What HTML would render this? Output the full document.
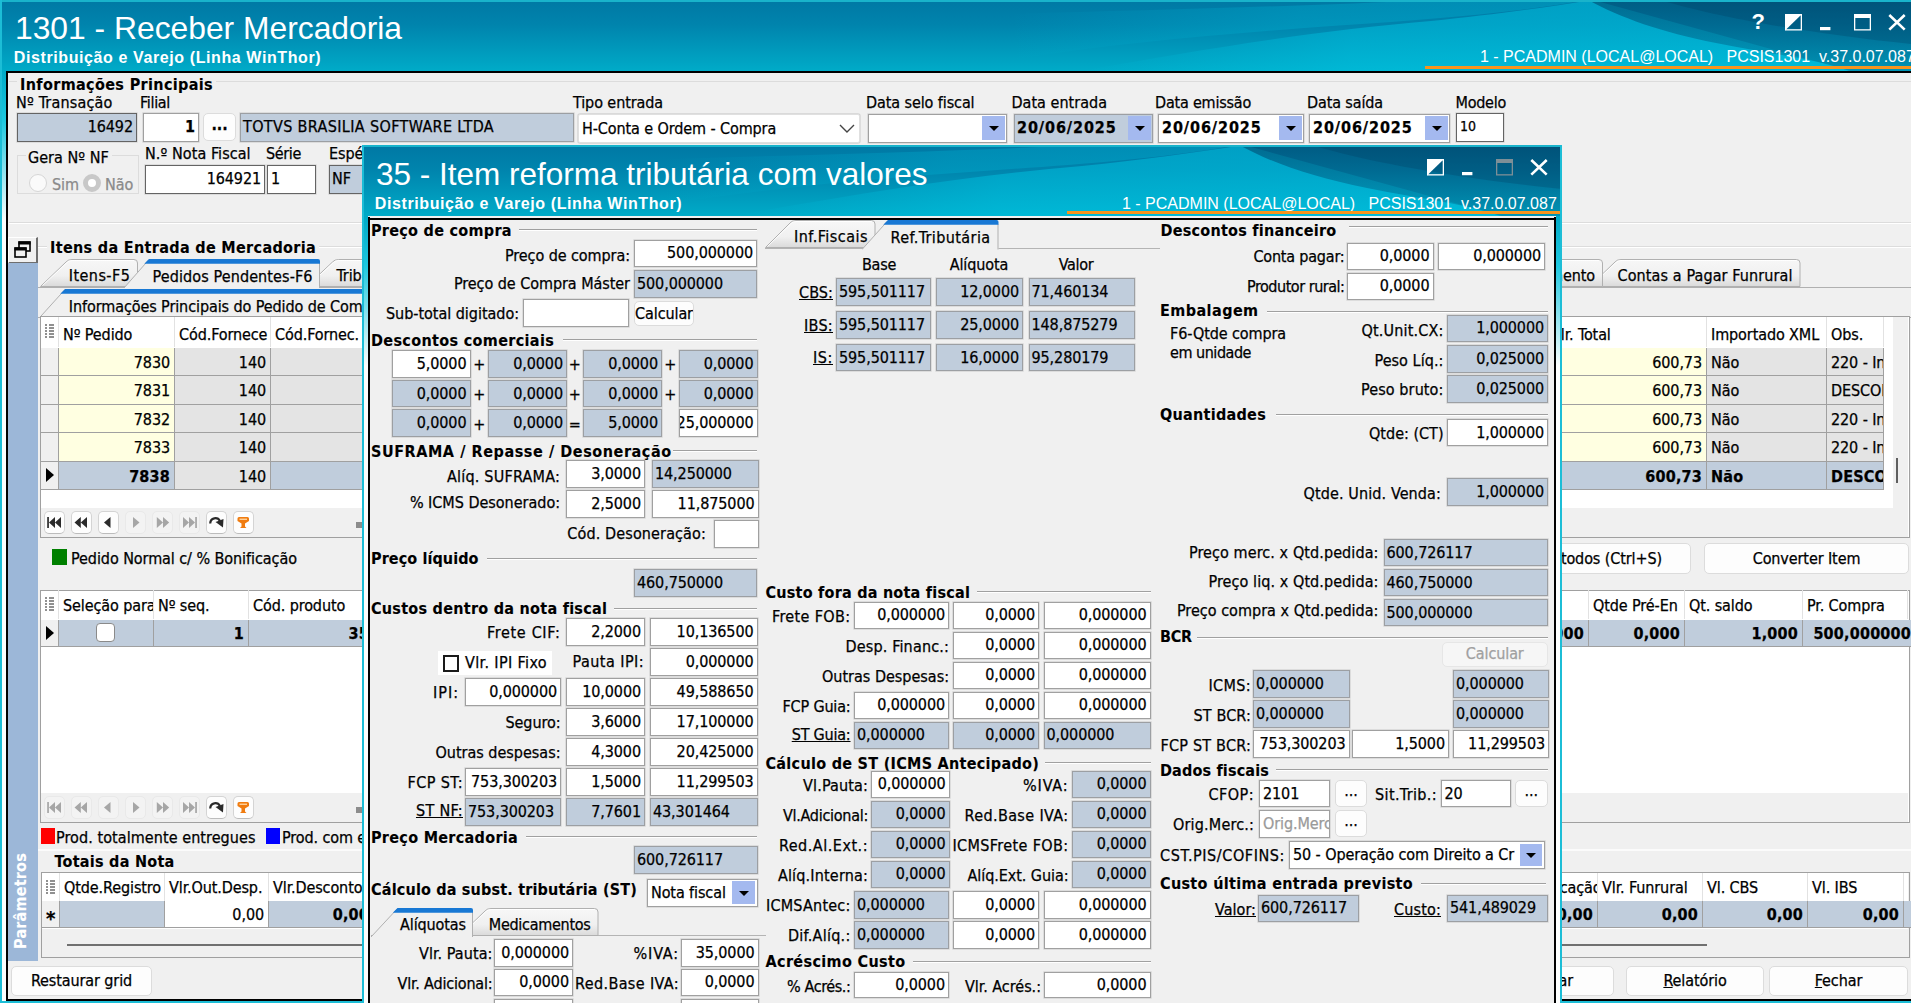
<!DOCTYPE html><html lang="pt-BR"><head><meta charset="utf-8"><title>1301 - Receber Mercadoria</title><style>
*{box-sizing:border-box;margin:0;padding:0}
html,body{width:1911px;height:1003px;overflow:hidden;background:#f0f0f0}
body{position:relative;font-family:"DejaVu Sans Condensed","DejaVu Sans","Liberation Sans",sans-serif;font-stretch:condensed;font-size:16px;letter-spacing:-.1px;-webkit-text-stroke-width:.25px;color:#000;line-height:18px}
.a{position:absolute;white-space:nowrap}
.ar{font-family:"Liberation Sans",sans-serif;font-stretch:normal;-webkit-text-stroke-width:0}
.t{position:absolute;white-space:nowrap;height:18px;line-height:18px}
.b{font-weight:bold;font-size:16px;letter-spacing:.2px;-webkit-text-stroke-width:.1px}
.f{position:absolute;white-space:nowrap;overflow:hidden;border:1px solid #a0a0a0;background:#fff;padding:0 3px;line-height:24px;box-shadow:0 0 0 .7px rgba(150,150,150,.3)}
.ro{background:#c0cddc;border-color:#9c9fa3;padding-left:2px}
.dk{border-color:#646464}
.r{text-align:right}
.c{text-align:center}
.u{text-decoration:underline}
.btn{position:absolute;white-space:nowrap;border:1px solid #dcdcdc;border-radius:5px;background:#fdfdfd;text-align:center;overflow:hidden}
.gl{position:absolute;height:2px;border-top:1px solid #a0a0a0;border-bottom:1px solid #fff}
.dd{position:absolute;background:#a4b9ef}
.dd:after{content:"";position:absolute;left:50%;top:50%;margin:-2px 0 0 -5px;border:5px solid transparent;border-top:5px solid #000;border-bottom:0}
.hc{position:absolute;top:0;height:100%;border-right:1px solid #e2e2e2;padding:0 4px;overflow:hidden;white-space:nowrap}
.cell{position:absolute;overflow:hidden;white-space:nowrap;border-right:1px solid #a0a0a0;border-bottom:1px solid #a0a0a0;padding:0 4px}
.gray{color:#8a8a8a}
</style></head><body>
<svg class="a" style="left:0px;top:0px" width="1911" height="71" viewBox="0 0 1911 71" preserveAspectRatio="none"><defs><linearGradient id="gm" x1="0" y1="0" x2="0" y2="1"><stop offset="0" stop-color="#0078a4"/><stop offset=".35" stop-color="#0084ad"/><stop offset="1" stop-color="#00abc8"/></linearGradient><linearGradient id="hm" x1="0" y1="0" x2="1" y2="0"><stop offset="0" stop-color="#00c8e6" stop-opacity="0"/><stop offset=".35" stop-color="#00c8e6" stop-opacity=".45"/><stop offset="1" stop-color="#00c8e6" stop-opacity=".55"/></linearGradient><linearGradient id="sm" x1="0" y1="0" x2="1" y2="0"><stop offset="0" stop-color="#00b8d8" stop-opacity="0"/><stop offset=".5" stop-color="#00b8d8" stop-opacity=".3"/><stop offset="1" stop-color="#00b8d8" stop-opacity=".35"/></linearGradient><linearGradient id="km" x1="0" y1="0" x2="0" y2="1"><stop offset="0" stop-color="#004a70" stop-opacity=".62"/><stop offset="1" stop-color="#005f86" stop-opacity=".3"/></linearGradient></defs><rect width="1911" height="71" fill="url(#gm)"/><path d="M1081 71 C1211 48 1321 30 1431 21 C1491 15 1541 8 1593 0 L1851 71 Z" fill="url(#hm)"/><path d="M1011 14 C1151 10 1311 6 1431 0 L1588 0 C1531 10 1471 16 1391 22 C1271 30 1131 40 1011 60 Z" fill="url(#sm)"/><path d="M1588 0 C1621 18 1661 32 1716 43 C1771 54 1821 60 1849 71 L1911 71 L1911 0 Z" fill="url(#km)"/><path d="M1641 0 C1691 14 1791 30 0 40 L1911 40 L1911 0 Z" fill="#003a5c" fill-opacity=".0"/><path d="M1661 0 C1711 16 1811 34 1911 44 L1911 0 Z" fill="#00395a" fill-opacity=".25"/><rect width="1911" height="2" fill="#19b3cb"/></svg>
<div class="a ar" style="left:15px;top:10px;font-size:31.8px;line-height:36px;letter-spacing:0;color:#fff">1301 - Receber Mercadoria</div>
<div class="a ar" style="left:13.8px;top:48.5px;font-size:16px;font-weight:bold;line-height:18px;letter-spacing:.6px;color:#fff">Distribuição e Varejo (Linha WinThor)</div>
<div class="a ar" style="left:1480px;top:48px;font-size:16px;line-height:18px;letter-spacing:0;color:#fff;white-space:pre">1 - PCADMIN (LOCAL@LOCAL)   PCSIS1301  v.37.0.07.087</div>
<div class="a" style="left:1425px;top:66px;width:486px;height:3px;background:#f7941d"></div>
<div class="a ar" style="left:1751.5px;top:9px;font-size:22px;font-weight:bold;line-height:26px;color:#fff;letter-spacing:0">?</div>
<svg class="a" style="left:1784.7px;top:13.5px" width="122" height="17" viewBox="0 0 122 17"><rect x=".65" y=".65" width="15.7" height="15.2" fill="none" stroke="#fff" stroke-width="1.3"/><path d="M0 0 L17 0 L0 16.5 Z" fill="#fff"/><rect x="35" y="13" width="10.4" height="3.2" fill="#fff"/><rect x="69.65" y=".65" width="15.7" height="15.2" fill="none" stroke="#fff" stroke-width="1.3"/><rect x="69" y="0" width="17" height="4" fill="#fff"/><path d="M104.3 1 L119.7 15.6 M119.7 1 L104.3 15.6" stroke="#fff" stroke-width="2.6" fill="none"/></svg>
<div class="a" style="left:0;top:71px;width:6px;height:932px;background:linear-gradient(#00a9c6 0,#1ec8e0 50px,#fdfefe 150px,#fdfefe 100%)"></div>
<div class="a" style="left:0;top:0;width:2px;height:1003px;background:#1cbdd6"></div>
<div class="a" style="left:6px;top:71px;width:1905px;height:2px;background:#000"></div>
<div class="a" style="left:5.5px;top:71px;width:2px;height:930px;background:#000"></div>
<div class="a" style="left:6px;top:999px;width:1905px;height:2px;background:#000"></div>
<div class="a" style="left:0;top:1001px;width:1911px;height:2px;background:#1cbdd6"></div>
<div class="a" style="left:9px;top:81px;width:1902px;height:142px;border-top:1px solid #dcdcdc;border-bottom:1px solid #dcdcdc"></div>
<div class="a" style="left:9px;top:223px;width:1902px;height:1px;background:#fff"></div>
<div class="a" style="left:17px;top:75px;width:199px;height:18px;background:#f0f0f0"></div>
<div class="t b" style="left:20px;top:75.75px;letter-spacing:0.36px;">Informações Principais</div>
<div class="t " style="left:16px;top:93.75px;letter-spacing:0.19px;">Nº Transação</div>
<div class="t " style="left:140px;top:93.75px;letter-spacing:-0.32px;">Filial</div>
<div class="t " style="left:573px;top:93.75px;letter-spacing:-0.09px;">Tipo entrada</div>
<div class="t " style="left:866px;top:93.75px;letter-spacing:-0.09px;">Data selo fiscal</div>
<div class="t " style="left:1011.5px;top:93.75px;letter-spacing:0.02px;">Data entrada</div>
<div class="t " style="left:1155px;top:93.75px;letter-spacing:-0.20px;">Data emissão</div>
<div class="t " style="left:1307px;top:93.75px;letter-spacing:-0.12px;">Data saída</div>
<div class="t " style="left:1455.5px;top:93.75px;letter-spacing:-0.26px;">Modelo</div>
<div class="f ro dk r" style="left:17px;top:113px;width:120px;height:28.6px;line-height:26.200000000000003px;">16492</div>
<div class="f r" style="left:143px;top:113px;width:56px;height:28.6px;line-height:26.200000000000003px;font-weight:bold">1</div>
<div class="btn " style="left:203px;top:113px;width:33px;height:28px;line-height:26px;font-weight:bold;line-height:22px">...</div>
<div class="f ro" style="left:240px;top:113px;width:334px;height:28.6px;line-height:26.200000000000003px;letter-spacing:0.36px">TOTVS BRASILIA SOFTWARE LTDA</div>
<div class="f" style="left:578px;top:114px;width:282px;height:29px;line-height:28px;border-color:#e0e0e0;border-radius:2px">H-Conta e Ordem - Compra</div>
<svg class="a" style="left:838px;top:124px" width="18" height="10" viewBox="0 0 18 10"><path d="M2 1 L9 8 L16 1" stroke="#444" stroke-width="1.4" fill="none"/></svg>
<div class="f " style="left:868px;top:114px;width:139px;height:28.6px;line-height:26.200000000000003px;font-weight:bold;font-size:16px;line-height:25.5px;letter-spacing:.9px"></div>
<div class="dd" style="left:982px;top:116px;width:23px;height:24px"></div>
<div class="f ro " style="left:1014px;top:114px;width:139px;height:28.6px;line-height:26.200000000000003px;font-weight:bold;font-size:16px;line-height:25.5px;letter-spacing:.9px">20/06/2025</div>
<div class="dd" style="left:1128px;top:116px;width:23px;height:24px"></div>
<div class="f " style="left:1158px;top:114px;width:146px;height:28.6px;line-height:26.200000000000003px;font-weight:bold;font-size:16px;line-height:25.5px;letter-spacing:.9px">20/06/2025</div>
<div class="dd" style="left:1279px;top:116px;width:23px;height:24px"></div>
<div class="f " style="left:1309px;top:114px;width:141px;height:28.6px;line-height:26.200000000000003px;font-weight:bold;font-size:16px;line-height:25.5px;letter-spacing:.9px">20/06/2025</div>
<div class="dd" style="left:1425px;top:116px;width:23px;height:24px"></div>
<div class="f dk" style="left:1456px;top:113px;width:48px;height:28.6px;line-height:26.200000000000003px;font-size:14px;line-height:24px">10</div>
<div class="a" style="left:17px;top:155px;width:122px;height:39px;border:1px solid #dcdcdc"></div>
<div class="a" style="left:26px;top:148px;width:86px;height:18px;background:#f0f0f0"></div>
<div class="t " style="left:28px;top:148.75px;letter-spacing:0.03px;">Gera Nº NF</div>
<div class="a" style="left:29px;top:174px;width:18px;height:18px;border-radius:9px;border:1px solid #d6d6d6;background:#fafafa"></div>
<div class="t gray" style="left:52px;top:175.75px;color:#a0a0a0letter-spacing:-0.80px;">Sim</div>
<div class="a" style="left:83px;top:174px;width:18px;height:18px;border-radius:9px;border:5px solid #c8c8c8;background:#fff"></div>
<div class="t gray" style="left:105px;top:175.75px;color:#a0a0a0letter-spacing:0.20px;">Não</div>
<div class="t " style="left:145px;top:144.75px;letter-spacing:0.07px;">N.º Nota Fiscal</div>
<div class="t " style="left:266px;top:144.75px;letter-spacing:-0.35px;">Série</div>
<div class="t " style="left:329px;top:144.75px;">Espécie</div>
<div class="f dk r" style="left:145px;top:165px;width:120px;height:28.6px;line-height:26.200000000000003px;">164921</div>
<div class="f dk" style="left:267px;top:165px;width:49px;height:28.6px;line-height:26.200000000000003px;">1</div>
<div class="f ro dk" style="left:329px;top:165px;width:91px;height:28.6px;line-height:26.200000000000003px;">NF</div>
<div class="a" style="left:7.5px;top:237px;width:30px;height:27px;background:#f0f0f0;border:1px solid #fff;border-right:2px solid #6e6e6e;border-bottom:2px solid #6e6e6e"></div>
<svg class="a" style="left:12.5px;top:240px" width="20" height="20" viewBox="0 0 20 20"><rect x="6" y="2" width="11" height="9" fill="#f0f0f0" stroke="#000" stroke-width="1.6"/><rect x="5.5" y="1.5" width="12" height="3" fill="#000"/><rect x="2" y="8" width="11" height="9" fill="#f0f0f0" stroke="#000" stroke-width="1.6"/><rect x="1.5" y="7.5" width="12" height="3" fill="#000"/></svg>
<div class="a" style="left:38px;top:246px;width:1873px;height:1px;background:#dcdcdc"></div>
<div class="a" style="left:38px;top:247px;width:1873px;height:1px;background:#fff"></div>
<div class="a" style="left:47px;top:238px;width:272px;height:18px;background:#f0f0f0"></div>
<div class="t b" style="left:50px;top:238.75px;letter-spacing:0.33px;">Itens da Entrada de Mercadoria</div>
<div class="a" style="left:8px;top:263px;width:30px;height:698px;background:#9cb7d8"></div>
<div class="a b" style="left:-42px;top:891px;width:126px;height:20px;line-height:20px;transform:rotate(-90deg);transform-origin:center;color:#fff;text-align:center;font-size:16px;letter-spacing:.2px">Parâmetros</div>
<div class="a" style="left:38px;top:287px;width:1873px;height:1px;background:#b0b0b0"></div>
<svg class="a" style="left:40px;top:259px" width="99" height="29" viewBox="0 0 99 29"><defs><linearGradient id="tg40_259" x1="0" y1="0" x2="0" y2="1"><stop offset="0" stop-color="#f7f7f7"/><stop offset=".6" stop-color="#f0f0f0"/><stop offset="1" stop-color="#dadada"/></linearGradient></defs><g><path d="M.5 27.5 L26 3 Q28 .5 32 .5 L94 .5 Q97.5 .5 97.5 4 L97.5 27.5 Z" fill="url(#tg40_259)" stroke="#b0b0b0"/><path d="M2.5 26.5 L27 3.5 Q29 1.5 32 1.5 L94 1.5" fill="none" stroke="#fff" stroke-opacity=".9"/></g></svg>
<div class="t " style="left:68.8px;top:267.25px;letter-spacing:0.44px;">Itens-F5</div>
<svg class="a" style="left:306px;top:259px" width="135" height="29" viewBox="0 0 135 29"><defs><linearGradient id="tg306_259" x1="0" y1="0" x2="0" y2="1"><stop offset="0" stop-color="#f7f7f7"/><stop offset=".6" stop-color="#f0f0f0"/><stop offset="1" stop-color="#dadada"/></linearGradient></defs><g><path d="M.5 27.5 L26.5 3 Q28.5 .5 32.5 .5 L130 .5 Q133.5 .5 133.5 4 L133.5 27.5 Z" fill="url(#tg306_259)" stroke="#b0b0b0"/><path d="M2.5 26.5 L27.5 3.5 Q29.5 1.5 32.5 1.5 L130 1.5" fill="none" stroke="#fff" stroke-opacity=".9"/></g></svg>
<div class="t " style="left:336.5px;top:267.25px;">Tributação</div>
<svg class="a" style="left:1589px;top:259px" width="212.5" height="29" viewBox="0 0 212.5 29"><defs><linearGradient id="tg1589_259" x1="0" y1="0" x2="0" y2="1"><stop offset="0" stop-color="#f7f7f7"/><stop offset=".6" stop-color="#f0f0f0"/><stop offset="1" stop-color="#dadada"/></linearGradient></defs><g><path d="M.5 27.5 L26 3 Q28 .5 32 .5 L207.5 .5 Q211.0 .5 211.0 4 L211.0 27.5 Z" fill="url(#tg1589_259)" stroke="#b0b0b0"/><path d="M2.5 26.5 L27 3.5 Q29 1.5 32 1.5 L207.5 1.5" fill="none" stroke="#fff" stroke-opacity=".9"/></g></svg>
<div class="t " style="left:1617.5px;top:267.25px;letter-spacing:0.11px;">Contas a Pagar Funrural</div>
<svg class="a" style="left:1500px;top:259px" width="104" height="29" viewBox="0 0 104 29"><defs><linearGradient id="tg1500_259" x1="0" y1="0" x2="0" y2="1"><stop offset="0" stop-color="#f7f7f7"/><stop offset=".6" stop-color="#f0f0f0"/><stop offset="1" stop-color="#dadada"/></linearGradient></defs><g><path d="M.5 27.5 L26 3 Q28 .5 32 .5 L99 .5 Q102.5 .5 102.5 4 L102.5 27.5 Z" fill="url(#tg1500_259)" stroke="#b0b0b0"/><path d="M2.5 26.5 L27 3.5 Q29 1.5 32 1.5 L99 1.5" fill="none" stroke="#fff" stroke-opacity=".9"/></g></svg>
<div class="t " style="right:316px;top:267.25px;">Faturamento</div>
<svg class="a" style="left:124px;top:259px" width="197" height="30" viewBox="0 0 197 30"><path d="M0 29 L25 0 L193 0 Q196 0 196 3 L196 30 L0 30Z" fill="#f0f0f0"/><path d="M0 29 L25 .5" stroke="#b0b0b0" fill="none"/><path d="M195.5 4 L195.5 29" stroke="#b0b0b0" fill="none"/><path d="M25 0 L194 0 Q196 0 196 2 L196 4.7 L20.3 4.7 Z" fill="#1878d4"/></svg>
<div class="t " style="left:152.6px;top:267.75px;letter-spacing:0.10px;">Pedidos Pendentes-F6</div>
<div class="a" style="left:38px;top:317px;width:1873px;height:1px;background:#b0b0b0"></div>
<svg class="a" style="left:39.5px;top:289.4px" width="441.5" height="29.100000000000023" viewBox="0 0 441.5 29.100000000000023"><path d="M0 28.100000000000023 L25.0 0 L437.5 0 Q440.5 0 440.5 3 L440.5 29.100000000000023 L0 29.100000000000023Z" fill="#f0f0f0"/><path d="M0 28.100000000000023 L25.0 .5" stroke="#b0b0b0" fill="none"/><path d="M440.0 4 L440.0 28.100000000000023" stroke="#b0b0b0" fill="none"/><path d="M25.0 0 L438.5 0 Q440.5 0 440.5 2 L440.5 4.7 L20.3 4.7 Z" fill="#1878d4"/></svg>
<div class="t " style="left:68.8px;top:297.7px;letter-spacing:-0.09px;">Informações Principais do Pedido de Compra</div>
<div class="a" style="left:40px;top:316px;width:1870px;height:222px;background:#fff;border:1px solid #a0a0a0"></div>
<div class="a" style="left:41px;top:317px;width:18px;height:30px;border-right:1px solid #e2e2e2"></div>
<svg class="a" style="left:45px;top:324px" width="9" height="15" viewBox="0 0 9 15"><path d="M0 1h2M4 1h5M0 4h2M4 4h5M0 7h2M4 7h5M0 10h2M4 10h5M0 13h2M4 13h5" stroke="#222" stroke-width="1.2"/></svg>
<div class="a" style="left:59px;top:317px;width:116px;height:30px;line-height:35px;border-right:1px solid #e2e2e2;padding-left:4px;overflow:hidden">Nº Pedido</div>
<div class="a" style="left:175px;top:317px;width:96px;height:30px;line-height:35px;border-right:1px solid #e2e2e2;padding-left:4px;overflow:hidden">Cód.Fornece</div>
<div class="a" style="left:271px;top:317px;width:96px;height:30px;line-height:35px;border-right:1px solid #e2e2e2;padding-left:4px;overflow:hidden">Cód.Fornec.</div>
<div class="a" style="left:1547px;top:317px;width:160px;height:30px;line-height:35px;border-right:1px solid #e2e2e2;padding-left:4px;overflow:hidden">Vlr. Total</div>
<div class="a" style="left:1707px;top:317px;width:120px;height:30px;line-height:35px;border-right:1px solid #e2e2e2;padding-left:4px;overflow:hidden">Importado XML</div>
<div class="a" style="left:1827px;top:317px;width:57px;height:30px;line-height:35px;border-right:1px solid #e2e2e2;padding-left:4px;overflow:hidden">Obs.</div>
<div class="cell" style="left:41px;top:348px;width:18px;height:28px;line-height:29px;background:#f0f0f0;"></div>
<div class="cell" style="left:59px;top:348px;width:116px;height:28px;line-height:29px;background:#ffffe1;text-align:right;">7830</div>
<div class="cell" style="left:175px;top:348px;width:96px;height:28px;line-height:29px;background:#e4e4e4;text-align:right;">140</div>
<div class="cell" style="left:271px;top:348px;width:1279px;height:28px;line-height:29px;background:#e4e4e4;"></div>
<div class="cell" style="left:1550px;top:348px;width:157px;height:28px;line-height:29px;background:#ffffe1;text-align:right;">600,73</div>
<div class="cell" style="left:1707px;top:348px;width:120px;height:28px;line-height:29px;background:#e4e4e4;">Não</div>
<div class="cell" style="left:1827px;top:348px;width:57px;height:28px;line-height:29px;background:#e4e4e4;">220 - In</div>
<div class="cell" style="left:41px;top:376px;width:18px;height:29px;line-height:30px;background:#f0f0f0;"></div>
<div class="cell" style="left:59px;top:376px;width:116px;height:29px;line-height:30px;background:#ffffe1;text-align:right;">7831</div>
<div class="cell" style="left:175px;top:376px;width:96px;height:29px;line-height:30px;background:#e4e4e4;text-align:right;">140</div>
<div class="cell" style="left:271px;top:376px;width:1279px;height:29px;line-height:30px;background:#e4e4e4;"></div>
<div class="cell" style="left:1550px;top:376px;width:157px;height:29px;line-height:30px;background:#ffffe1;text-align:right;">600,73</div>
<div class="cell" style="left:1707px;top:376px;width:120px;height:29px;line-height:30px;background:#e4e4e4;">Não</div>
<div class="cell" style="left:1827px;top:376px;width:57px;height:29px;line-height:30px;background:#e4e4e4;">DESCON</div>
<div class="cell" style="left:41px;top:405px;width:18px;height:28px;line-height:29px;background:#f0f0f0;"></div>
<div class="cell" style="left:59px;top:405px;width:116px;height:28px;line-height:29px;background:#ffffe1;text-align:right;">7832</div>
<div class="cell" style="left:175px;top:405px;width:96px;height:28px;line-height:29px;background:#e4e4e4;text-align:right;">140</div>
<div class="cell" style="left:271px;top:405px;width:1279px;height:28px;line-height:29px;background:#e4e4e4;"></div>
<div class="cell" style="left:1550px;top:405px;width:157px;height:28px;line-height:29px;background:#ffffe1;text-align:right;">600,73</div>
<div class="cell" style="left:1707px;top:405px;width:120px;height:28px;line-height:29px;background:#e4e4e4;">Não</div>
<div class="cell" style="left:1827px;top:405px;width:57px;height:28px;line-height:29px;background:#e4e4e4;">220 - In</div>
<div class="cell" style="left:41px;top:433px;width:18px;height:28.5px;line-height:29.5px;background:#f0f0f0;"></div>
<div class="cell" style="left:59px;top:433px;width:116px;height:28.5px;line-height:29.5px;background:#ffffe1;text-align:right;">7833</div>
<div class="cell" style="left:175px;top:433px;width:96px;height:28.5px;line-height:29.5px;background:#e4e4e4;text-align:right;">140</div>
<div class="cell" style="left:271px;top:433px;width:1279px;height:28.5px;line-height:29.5px;background:#e4e4e4;"></div>
<div class="cell" style="left:1550px;top:433px;width:157px;height:28.5px;line-height:29.5px;background:#ffffe1;text-align:right;">600,73</div>
<div class="cell" style="left:1707px;top:433px;width:120px;height:28.5px;line-height:29.5px;background:#e4e4e4;">Não</div>
<div class="cell" style="left:1827px;top:433px;width:57px;height:28.5px;line-height:29.5px;background:#e4e4e4;">220 - In</div>
<div class="cell" style="left:41px;top:461.5px;width:18px;height:28.5px;line-height:29.5px;background:#f0f0f0;"></div>
<div class="cell" style="left:59px;top:461.5px;width:116px;height:28.5px;line-height:29.5px;background:#c0cddc;text-align:right;font-weight:bold;font-size:16px;letter-spacing:.2px;">7838</div>
<div class="cell" style="left:175px;top:461.5px;width:96px;height:28.5px;line-height:29.5px;background:#e4e4e4;text-align:right;">140</div>
<div class="cell" style="left:271px;top:461.5px;width:1279px;height:28.5px;line-height:29.5px;background:#c0cddc;"></div>
<div class="cell" style="left:1550px;top:461.5px;width:157px;height:28.5px;line-height:29.5px;background:#c0cddc;text-align:right;font-weight:bold;font-size:16px;letter-spacing:.2px;">600,73</div>
<div class="cell" style="left:1707px;top:461.5px;width:120px;height:28.5px;line-height:29.5px;background:#c0cddc;font-weight:bold;font-size:16px;letter-spacing:.2px;">Não</div>
<div class="cell" style="left:1827px;top:461.5px;width:57px;height:28.5px;line-height:29.5px;background:#c0cddc;font-weight:bold;font-size:16px;letter-spacing:.2px;">DESCO</div>
<svg class="a" style="left:46px;top:468px" width="8" height="14" viewBox="0 0 8 14"><path d="M0 0 L8 7 L0 14Z" fill="#000"/></svg>
<div class="a" style="left:1893px;top:317px;width:15px;height:191px;background:#f0f0f0"></div>
<div class="a" style="left:1896px;top:458px;width:2px;height:25px;background:#606060"></div>
<div class="a" style="left:41px;top:507.5px;width:1867px;height:29px;background:#f0f0f0"></div>
<div class="a" style="left:43.5px;top:510.8px;width:21.5px;height:23px;background:#fdfdfd;border:1px solid #d4d4d4;border-bottom-color:#bcbcbc;border-radius:5px"></div>
<svg class="a" style="left:43.5px;top:510.8px" width="22" height="23" viewBox="0 0 22 23"><path d="M3.2 6h1.7v11h-1.7zM5 11.5l6-5.5v11zM11 11.5l6-5.5v11z" fill="#2a2a2a"/></svg>
<div class="a" style="left:70.5px;top:510.8px;width:21.5px;height:23px;background:#fdfdfd;border:1px solid #d4d4d4;border-bottom-color:#bcbcbc;border-radius:5px"></div>
<svg class="a" style="left:70.5px;top:510.8px" width="22" height="23" viewBox="0 0 22 23"><path d="M3.5 11.5l6.3-5.5v11zM9.8 11.5l6.2-5.5v11z" fill="#2a2a2a"/></svg>
<div class="a" style="left:97.5px;top:510.8px;width:21.5px;height:23px;background:#fdfdfd;border:1px solid #d4d4d4;border-bottom-color:#bcbcbc;border-radius:5px"></div>
<svg class="a" style="left:97.5px;top:510.8px" width="22" height="23" viewBox="0 0 22 23"><path d="M6 11.5l6.5-5.5v11z" fill="#2a2a2a"/></svg>
<div class="a" style="left:124.5px;top:510.8px;width:21.5px;height:23px;background:#f3f3f3;border:1px solid #e9e9e9;border-radius:5px"></div>
<svg class="a" style="left:124.5px;top:510.8px" width="22" height="23" viewBox="0 0 22 23"><path d="M14.5 11.5l-6.5-5.5v11z" fill="#a6a6a6"/></svg>
<div class="a" style="left:151.5px;top:510.8px;width:21.5px;height:23px;background:#f3f3f3;border:1px solid #e9e9e9;border-radius:5px"></div>
<svg class="a" style="left:151.5px;top:510.8px" width="22" height="23" viewBox="0 0 22 23"><path d="M17.2 11.5l-6.2-5.5v11zM11 11.5l-6.2-5.5v11z" fill="#a6a6a6"/></svg>
<div class="a" style="left:178.5px;top:510.8px;width:21.5px;height:23px;background:#f3f3f3;border:1px solid #e9e9e9;border-radius:5px"></div>
<svg class="a" style="left:178.5px;top:510.8px" width="22" height="23" viewBox="0 0 22 23"><path d="M16.2 6h1.7v11h-1.7zM16 11.5l-6-5.5v11zM10 11.5l-6-5.5v11z" fill="#a6a6a6"/></svg>
<div class="a" style="left:205.5px;top:510.8px;width:21.5px;height:23px;background:#fdfdfd;border:1px solid #d4d4d4;border-bottom-color:#bcbcbc;border-radius:5px"></div>
<svg class="a" style="left:205.5px;top:510.8px" width="22" height="23" viewBox="0 0 22 23"><path d="M4.2 12.5 C4.5 6.5 11.5 5.5 14 10" stroke="#2a2a2a" stroke-width="2.2" fill="none"/><path d="M9.5 11 L17.5 8 L17 16.5Z" fill="#2a2a2a"/></svg>
<div class="a" style="left:232.5px;top:510.8px;width:21.5px;height:23px;background:#fdfdfd;border:1px solid #d4d4d4;border-bottom-color:#bcbcbc;border-radius:5px"></div>
<svg class="a" style="left:232.5px;top:510.8px" width="22" height="23" viewBox="0 0 22 23"><path d="M4.5 7.5 Q4.5 6 6 6 L14.5 6 Q16 6 16 7.5 L16 10 L12 12.5 L12 15.5 L13.5 17 L7 17 L8.5 15.5 L8.5 12.5 L4.5 10Z" fill="#f07c10"/><rect x="6.5" y="7.6" width="7.5" height="1.3" fill="#ffd9a8"/></svg>
<div class="a" style="left:356px;top:521.5px;width:6px;height:6px;background:#8c8c8c"></div>
<div class="a" style="left:52px;top:549px;width:15px;height:16px;background:#008000"></div>
<div class="t " style="left:71px;top:549.75px;letter-spacing:-0.07px;">Pedido Normal c/ % Bonificação</div>
<div class="btn " style="left:1440px;top:543px;width:251px;height:31px;line-height:29px;text-align:right;padding-right:28px">Salvar todos (Ctrl+S)</div>
<div class="btn " style="left:1704px;top:543px;width:205px;height:31px;line-height:29px;">Converter Item</div>
<div class="a" style="left:40px;top:590px;width:1870px;height:233px;background:#fff;border:1px solid #a0a0a0"></div>
<div class="a" style="left:41px;top:590px;width:18px;height:29px;border-right:1px solid #e2e2e2"></div>
<svg class="a" style="left:45px;top:597px" width="9" height="15" viewBox="0 0 9 15"><path d="M0 1h2M4 1h5M0 4h2M4 4h5M0 7h2M4 7h5M0 10h2M4 10h5M0 13h2M4 13h5" stroke="#222" stroke-width="1.2"/></svg>
<div class="a" style="left:59px;top:590px;width:95px;height:29px;line-height:32px;border-right:1px solid #e2e2e2;padding-left:4px;overflow:hidden">Seleção para</div>
<div class="a" style="left:154px;top:590px;width:95px;height:29px;line-height:32px;border-right:1px solid #e2e2e2;padding-left:4px;overflow:hidden">Nº seq.</div>
<div class="a" style="left:249px;top:590px;width:118px;height:29px;line-height:32px;border-right:1px solid #e2e2e2;padding-left:4px;overflow:hidden">Cód. produto</div>
<div class="a" style="left:1420px;top:590px;width:169px;height:29px;line-height:32px;border-right:1px solid #e2e2e2;padding-left:4px;overflow:hidden">Qt. entregue</div>
<div class="a" style="left:1589px;top:590px;width:96px;height:29px;line-height:32px;border-right:1px solid #e2e2e2;padding-left:4px;overflow:hidden">Qtde Pré-En</div>
<div class="a" style="left:1685px;top:590px;width:118px;height:29px;line-height:32px;border-right:1px solid #e2e2e2;padding-left:4px;overflow:hidden">Qt. saldo</div>
<div class="a" style="left:1803px;top:590px;width:105px;height:29px;line-height:32px;border-right:1px solid #e2e2e2;padding-left:4px;overflow:hidden">Pr. Compra</div>
<div class="cell" style="left:41px;top:620px;width:18px;height:27px;line-height:28px;background:#f0f0f0;"></div>
<div class="cell" style="left:59px;top:620px;width:95px;height:27px;line-height:28px;background:#c0cddc;"></div>
<div class="cell" style="left:154px;top:620px;width:95px;height:27px;line-height:28px;background:#c0cddc;text-align:right;font-weight:bold;font-size:16px;letter-spacing:.2px;">1</div>
<div class="cell" style="left:249px;top:620px;width:125px;height:27px;line-height:28px;background:#c0cddc;text-align:right;font-weight:bold;font-size:16px;letter-spacing:.2px;">35</div>
<div class="cell" style="left:374px;top:620px;width:1126px;height:27px;line-height:28px;background:#c0cddc;"></div>
<div class="cell" style="left:1500px;top:620px;width:89px;height:27px;line-height:28px;background:#c0cddc;text-align:right;font-weight:bold;font-size:16px;letter-spacing:.2px;">0,000</div>
<div class="cell" style="left:1589px;top:620px;width:96px;height:27px;line-height:28px;background:#c0cddc;text-align:right;font-weight:bold;font-size:16px;letter-spacing:.2px;">0,000</div>
<div class="cell" style="left:1685px;top:620px;width:118px;height:27px;line-height:28px;background:#c0cddc;text-align:right;font-weight:bold;font-size:16px;letter-spacing:.2px;">1,000</div>
<div class="cell" style="left:1803px;top:620px;width:113px;height:27px;line-height:28px;background:#c0cddc;text-align:right;font-weight:bold;font-size:16px;letter-spacing:.2px;">500,000000</div>
<svg class="a" style="left:46px;top:626px" width="8" height="14" viewBox="0 0 8 14"><path d="M0 0 L8 7 L0 14Z" fill="#000"/></svg>
<div class="a" style="left:96px;top:623px;width:19px;height:19px;background:#fff;border:1px solid #8a8a8a;border-radius:4px"></div>
<div class="a" style="left:41px;top:793px;width:1867px;height:29px;background:#f0f0f0"></div>
<div class="a" style="left:43.5px;top:796.3px;width:21.5px;height:23px;background:#f3f3f3;border:1px solid #e9e9e9;border-radius:5px"></div>
<svg class="a" style="left:43.5px;top:796.3px" width="22" height="23" viewBox="0 0 22 23"><path d="M3.2 6h1.7v11h-1.7zM5 11.5l6-5.5v11zM11 11.5l6-5.5v11z" fill="#a6a6a6"/></svg>
<div class="a" style="left:70.5px;top:796.3px;width:21.5px;height:23px;background:#f3f3f3;border:1px solid #e9e9e9;border-radius:5px"></div>
<svg class="a" style="left:70.5px;top:796.3px" width="22" height="23" viewBox="0 0 22 23"><path d="M3.5 11.5l6.3-5.5v11zM9.8 11.5l6.2-5.5v11z" fill="#a6a6a6"/></svg>
<div class="a" style="left:97.5px;top:796.3px;width:21.5px;height:23px;background:#f3f3f3;border:1px solid #e9e9e9;border-radius:5px"></div>
<svg class="a" style="left:97.5px;top:796.3px" width="22" height="23" viewBox="0 0 22 23"><path d="M6 11.5l6.5-5.5v11z" fill="#a6a6a6"/></svg>
<div class="a" style="left:124.5px;top:796.3px;width:21.5px;height:23px;background:#f3f3f3;border:1px solid #e9e9e9;border-radius:5px"></div>
<svg class="a" style="left:124.5px;top:796.3px" width="22" height="23" viewBox="0 0 22 23"><path d="M14.5 11.5l-6.5-5.5v11z" fill="#a6a6a6"/></svg>
<div class="a" style="left:151.5px;top:796.3px;width:21.5px;height:23px;background:#f3f3f3;border:1px solid #e9e9e9;border-radius:5px"></div>
<svg class="a" style="left:151.5px;top:796.3px" width="22" height="23" viewBox="0 0 22 23"><path d="M17.2 11.5l-6.2-5.5v11zM11 11.5l-6.2-5.5v11z" fill="#a6a6a6"/></svg>
<div class="a" style="left:178.5px;top:796.3px;width:21.5px;height:23px;background:#f3f3f3;border:1px solid #e9e9e9;border-radius:5px"></div>
<svg class="a" style="left:178.5px;top:796.3px" width="22" height="23" viewBox="0 0 22 23"><path d="M16.2 6h1.7v11h-1.7zM16 11.5l-6-5.5v11zM10 11.5l-6-5.5v11z" fill="#a6a6a6"/></svg>
<div class="a" style="left:205.5px;top:796.3px;width:21.5px;height:23px;background:#fdfdfd;border:1px solid #d4d4d4;border-bottom-color:#bcbcbc;border-radius:5px"></div>
<svg class="a" style="left:205.5px;top:796.3px" width="22" height="23" viewBox="0 0 22 23"><path d="M4.2 12.5 C4.5 6.5 11.5 5.5 14 10" stroke="#2a2a2a" stroke-width="2.2" fill="none"/><path d="M9.5 11 L17.5 8 L17 16.5Z" fill="#2a2a2a"/></svg>
<div class="a" style="left:232.5px;top:796.3px;width:21.5px;height:23px;background:#fdfdfd;border:1px solid #d4d4d4;border-bottom-color:#bcbcbc;border-radius:5px"></div>
<svg class="a" style="left:232.5px;top:796.3px" width="22" height="23" viewBox="0 0 22 23"><path d="M4.5 7.5 Q4.5 6 6 6 L14.5 6 Q16 6 16 7.5 L16 10 L12 12.5 L12 15.5 L13.5 17 L7 17 L8.5 15.5 L8.5 12.5 L4.5 10Z" fill="#f07c10"/><rect x="6.5" y="7.6" width="7.5" height="1.3" fill="#ffd9a8"/></svg>
<div class="a" style="left:356px;top:807px;width:6px;height:6px;background:#8c8c8c"></div>
<div class="a" style="left:41px;top:828px;width:14px;height:16px;background:#ff0000"></div>
<div class="t " style="left:56px;top:829.25px;letter-spacing:0.07px;">Prod. totalmente entregues</div>
<div class="a" style="left:266px;top:828px;width:14px;height:16px;background:#0000ff"></div>
<div class="t " style="left:282px;top:829.25px;">Prod. com entrega parcial</div>
<div class="a" style="left:38px;top:849px;width:1873px;height:2px;background:#fbfbfb"></div>
<div class="t b" style="left:54.5px;top:852.75px;letter-spacing:0.27px;">Totais da Nota</div>
<div class="a" style="left:41px;top:872px;width:1869px;height:86px;background:#f0f0f0;border:1px solid #a0a0a0"></div>
<div class="a" style="left:42px;top:873px;width:1866px;height:56px;background:#fff"></div>
<div class="a" style="left:42px;top:873px;width:18px;height:28px;border-right:1px solid #e2e2e2"></div>
<svg class="a" style="left:46px;top:880px" width="9" height="15" viewBox="0 0 9 15"><path d="M0 1h2M4 1h5M0 4h2M4 4h5M0 7h2M4 7h5M0 10h2M4 10h5M0 13h2M4 13h5" stroke="#222" stroke-width="1.2"/></svg>
<div class="a" style="left:60px;top:873px;width:105px;height:28px;line-height:29px;border-right:1px solid #e2e2e2;padding-left:4px;overflow:hidden">Qtde.Registro</div>
<div class="a" style="left:165px;top:873px;width:104px;height:28px;line-height:29px;border-right:1px solid #e2e2e2;padding-left:4px;overflow:hidden">Vlr.Out.Desp.</div>
<div class="a" style="left:269px;top:873px;width:105px;height:28px;line-height:29px;border-right:1px solid #e2e2e2;padding-left:4px;overflow:hidden">Vlr.Desconto</div>
<div class="a" style="left:1493px;top:873px;width:105px;height:28px;line-height:29px;border-right:1px solid #e2e2e2;padding-left:4px;overflow:hidden">Vlr.Bonificação</div>
<div class="a" style="left:1598px;top:873px;width:105px;height:28px;line-height:29px;border-right:1px solid #e2e2e2;padding-left:4px;overflow:hidden">Vlr. Funrural</div>
<div class="a" style="left:1703px;top:873px;width:105px;height:28px;line-height:29px;border-right:1px solid #e2e2e2;padding-left:4px;overflow:hidden">Vl. CBS</div>
<div class="a" style="left:1808px;top:873px;width:96px;height:28px;line-height:29px;border-right:1px solid #e2e2e2;padding-left:4px;overflow:hidden">Vl. IBS</div>
<div class="cell" style="left:42px;top:901px;width:18px;height:27px;line-height:28px;background:#f0f0f0;"></div>
<div class="t " style="left:46px;top:908.75px;font-size:20px;font-weight:bold">*</div>
<div class="cell" style="left:60px;top:901px;width:105px;height:27px;line-height:28px;background:#c0cddc;"></div>
<div class="cell" style="left:165px;top:901px;width:104px;height:27px;line-height:28px;background:#fff;text-align:right;">0,00</div>
<div class="cell" style="left:269px;top:901px;width:105px;height:27px;line-height:28px;background:#c0cddc;text-align:right;font-weight:bold;font-size:16px;letter-spacing:.2px;">0,00</div>
<div class="cell" style="left:374px;top:901px;width:1119px;height:27px;line-height:28px;background:#c0cddc;"></div>
<div class="cell" style="left:1493px;top:901px;width:105px;height:27px;line-height:28px;background:#c0cddc;text-align:right;font-weight:bold;font-size:16px;letter-spacing:.2px;">0,00</div>
<div class="cell" style="left:1598px;top:901px;width:105px;height:27px;line-height:28px;background:#c0cddc;text-align:right;font-weight:bold;font-size:16px;letter-spacing:.2px;">0,00</div>
<div class="cell" style="left:1703px;top:901px;width:105px;height:27px;line-height:28px;background:#c0cddc;text-align:right;font-weight:bold;font-size:16px;letter-spacing:.2px;">0,00</div>
<div class="cell" style="left:1808px;top:901px;width:96px;height:27px;line-height:28px;background:#c0cddc;text-align:right;font-weight:bold;font-size:16px;letter-spacing:.2px;">0,00</div>
<div class="cell" style="left:1904px;top:901px;width:4px;height:27px;line-height:28px;background:#c0cddc;"></div>
<div class="a" style="left:67px;top:944px;width:1640px;height:2px;background:#707070"></div>
<div class="btn " style="left:11px;top:966px;width:141px;height:30px;line-height:28px;">Restaurar grid</div>
<div class="btn " style="left:1480px;top:966px;width:134px;height:30px;line-height:28px;text-align:right;padding-right:40px">Confirmar</div>
<div class="btn " style="left:1626px;top:966px;width:138px;height:30px;line-height:28px;"><u>R</u>elatório</div>
<div class="btn " style="left:1769px;top:966px;width:139px;height:30px;line-height:28px;"><u>F</u>echar</div>
<div class="a" style="left:362px;top:145px;width:1200px;height:858px;background:#f0f0f0"></div>
<svg class="a" style="left:362px;top:145px" width="1200" height="71" viewBox="0 0 1200 71" preserveAspectRatio="none"><defs><linearGradient id="gd" x1="0" y1="0" x2="0" y2="1"><stop offset="0" stop-color="#0078a4"/><stop offset=".35" stop-color="#0084ad"/><stop offset="1" stop-color="#00abc8"/></linearGradient><linearGradient id="hd" x1="0" y1="0" x2="1" y2="0"><stop offset="0" stop-color="#00c8e6" stop-opacity="0"/><stop offset=".35" stop-color="#00c8e6" stop-opacity=".45"/><stop offset="1" stop-color="#00c8e6" stop-opacity=".55"/></linearGradient><linearGradient id="sd" x1="0" y1="0" x2="1" y2="0"><stop offset="0" stop-color="#00b8d8" stop-opacity="0"/><stop offset=".5" stop-color="#00b8d8" stop-opacity=".3"/><stop offset="1" stop-color="#00b8d8" stop-opacity=".35"/></linearGradient><linearGradient id="kd" x1="0" y1="0" x2="0" y2="1"><stop offset="0" stop-color="#004a70" stop-opacity=".62"/><stop offset="1" stop-color="#005f86" stop-opacity=".3"/></linearGradient></defs><rect width="1200" height="71" fill="url(#gd)"/><path d="M370 71 C500 48 610 30 720 21 C780 15 830 8 882 0 L1140 71 Z" fill="url(#hd)"/><path d="M300 14 C440 10 600 6 720 0 L877 0 C820 10 760 16 680 22 C560 30 420 40 300 60 Z" fill="url(#sd)"/><path d="M877 0 C910 18 950 32 1005 43 C1060 54 1110 60 1138 71 L1200 71 L1200 0 Z" fill="url(#kd)"/><path d="M930 0 C980 14 1080 30 0 40 L1200 40 L1200 0 Z" fill="#003a5c" fill-opacity=".0"/><path d="M950 0 C1000 16 1100 34 1200 44 L1200 0 Z" fill="#00395a" fill-opacity=".25"/><rect width="1200" height="2" fill="#19b3cb"/></svg>
<div class="a ar" style="left:376px;top:156px;font-size:31.5px;line-height:36px;letter-spacing:0;color:#fff">35 - Item reforma tributária com valores</div>
<div class="a ar" style="left:374.8px;top:194.5px;font-size:16px;font-weight:bold;line-height:18px;letter-spacing:.6px;color:#fff">Distribuição e Varejo (Linha WinThor)</div>
<div class="a ar" style="left:1122px;top:195px;font-size:16px;line-height:18px;letter-spacing:0;color:#fff;white-space:pre">1 - PCADMIN (LOCAL@LOCAL)   PCSIS1301  v.37.0.07.087</div>
<div class="a" style="left:1067px;top:211px;width:493px;height:3px;background:#f7941d"></div>
<svg class="a" style="left:1427px;top:159.3px" width="122" height="17" viewBox="0 0 122 17"><rect x=".65" y=".65" width="15.7" height="15.2" fill="none" stroke="#fff" stroke-width="1.3"/><path d="M0 0 L17 0 L0 16.5 Z" fill="#fff"/><rect x="35" y="13" width="10.4" height="3.2" fill="#fff"/><rect x="69.65" y=".65" width="15.7" height="15.2" fill="none" stroke="#7d8f97" stroke-width="1.3"/><rect x="69" y="0" width="17" height="4" fill="#7d8f97"/><path d="M104.3 1 L119.7 15.6 M119.7 1 L104.3 15.6" stroke="#fff" stroke-width="2.6" fill="none"/></svg>
<div class="a" style="left:362px;top:216px;width:6px;height:787px;background:linear-gradient(#00a9c6 0,#1ec8e0 50px,#fdfefe 150px,#fdfefe 100%)"></div>
<div class="a" style="left:1556px;top:216px;width:6px;height:787px;background:linear-gradient(#00a9c6 0,#1ec8e0 50px,#fdfefe 150px,#fdfefe 100%)"></div>
<div class="a" style="left:362px;top:145px;width:2px;height:858px;background:#1cbdd6"></div>
<div class="a" style="left:1560px;top:145px;width:2px;height:858px;background:#1cbdd6"></div>
<div class="a" style="left:368px;top:217.5px;width:1188px;height:2px;background:#000"></div>
<div class="a" style="left:367.5px;top:217px;width:2px;height:786px;background:#000"></div>
<div class="a" style="left:1554px;top:217px;width:2px;height:786px;background:#000"></div>
<div class="t b" style="left:371px;top:221.75px;letter-spacing:0.29px;">Preço de compra</div>
<div class="gl" style="left:519px;top:228.5px;width:238px"></div>
<div class="t " style="right:1281px;top:247.25px;letter-spacing:-0.07px;">Preço de compra:</div>
<div class="f r" style="left:634px;top:240px;width:123px;height:26.6px;line-height:24.200000000000003px;">500,000000</div>
<div class="t " style="right:1281px;top:275.25px;letter-spacing:-0.05px;">Preço de Compra Máster</div>
<div class="f ro" style="left:634px;top:270px;width:123px;height:27.6px;line-height:25.200000000000003px;">500,000000</div>
<div class="t " style="right:1392px;top:304.75px;letter-spacing:-0.03px;">Sub-total digitado:</div>
<div class="f " style="left:523px;top:299px;width:106px;height:27.6px;line-height:25.200000000000003px;"></div>
<div class="btn " style="left:634px;top:301px;width:60px;height:25px;line-height:23px;">Calcular</div>
<div class="t b" style="left:371px;top:331.75px;letter-spacing:0.34px;">Descontos comerciais</div>
<div class="gl" style="left:563px;top:338.5px;width:194px"></div>
<div class="f  r" style="left:392px;top:350px;width:78.5px;height:27.6px;line-height:25.200000000000003px;">5,0000</div>
<div class="f ro r" style="left:488px;top:350px;width:79px;height:27.6px;line-height:25.200000000000003px;">0,0000</div>
<div class="f ro r" style="left:582.5px;top:350px;width:79.5px;height:27.6px;line-height:25.200000000000003px;">0,0000</div>
<div class="f ro r" style="left:678.5px;top:350px;width:79.0px;height:27.6px;line-height:25.200000000000003px;">0,0000</div>
<div class="t " style="left:279.25px;width:400px;text-align:center;top:356.25px;font-size:16px">+</div>
<div class="t " style="left:374.75px;width:400px;text-align:center;top:356.25px;font-size:16px">+</div>
<div class="t " style="left:470.25px;width:400px;text-align:center;top:356.25px;font-size:16px">+</div>
<div class="f ro r" style="left:392px;top:379.5px;width:78.5px;height:27.6px;line-height:25.200000000000003px;">0,0000</div>
<div class="f ro r" style="left:488px;top:379.5px;width:79px;height:27.6px;line-height:25.200000000000003px;">0,0000</div>
<div class="f ro r" style="left:582.5px;top:379.5px;width:79.5px;height:27.6px;line-height:25.200000000000003px;">0,0000</div>
<div class="f ro r" style="left:678.5px;top:379.5px;width:79.0px;height:27.6px;line-height:25.200000000000003px;">0,0000</div>
<div class="t " style="left:279.25px;width:400px;text-align:center;top:385.75px;font-size:16px">+</div>
<div class="t " style="left:374.75px;width:400px;text-align:center;top:385.75px;font-size:16px">+</div>
<div class="t " style="left:470.25px;width:400px;text-align:center;top:385.75px;font-size:16px">+</div>
<div class="f ro r" style="left:392px;top:409px;width:78.5px;height:28.1px;line-height:25.700000000000003px;">0,0000</div>
<div class="f ro r" style="left:488px;top:409px;width:79px;height:28.1px;line-height:25.700000000000003px;">0,0000</div>
<div class="f ro r" style="left:582.5px;top:409px;width:79.5px;height:28.1px;line-height:25.700000000000003px;">5,0000</div>
<div class="f" style="left:678.5px;top:409px;width:79.0px;height:27.5px;line-height:25.5px;direction:rtl;text-align:right;padding:0 3px 0 0">25,000000</div>
<div class="t " style="left:279.25px;width:400px;text-align:center;top:415.5px;font-size:16px">+</div>
<div class="t " style="left:374.75px;width:400px;text-align:center;top:415.5px;font-size:16px">=</div>
<div class="t b" style="left:371px;top:442.75px;letter-spacing:0.57px;">SUFRAMA / Repasse / Desoneração</div>
<div class="gl" style="left:673px;top:449.5px;width:84px"></div>
<div class="t " style="right:1351px;top:467.75px;letter-spacing:0.21px;">Alíq. SUFRAMA:</div>
<div class="f r" style="left:566px;top:460px;width:79px;height:27.6px;line-height:25.200000000000003px;">3,0000</div>
<div class="f ro" style="left:652px;top:460px;width:106.5px;height:27.6px;line-height:25.200000000000003px;">14,250000</div>
<div class="t " style="right:1351px;top:493.75px;letter-spacing:-0.02px;">% ICMS Desonerado:</div>
<div class="f r" style="left:566px;top:490px;width:79px;height:27.6px;line-height:25.200000000000003px;">2,5000</div>
<div class="f r" style="left:652px;top:490px;width:106.5px;height:27.6px;line-height:25.200000000000003px;">11,875000</div>
<div class="t " style="right:1205px;top:524.75px;letter-spacing:0.13px;">Cód. Desoneração:</div>
<div class="f " style="left:714px;top:520px;width:44.5px;height:27.6px;line-height:25.200000000000003px;"></div>
<div class="t b" style="left:371px;top:550.25px;letter-spacing:0.09px;">Preço líquido</div>
<div class="gl" style="left:487px;top:558px;width:270px"></div>
<div class="f ro" style="left:634px;top:568.5px;width:123px;height:28.1px;line-height:25.700000000000003px;">460,750000</div>
<div class="t b" style="left:371px;top:599.75px;letter-spacing:0.27px;">Custos dentro da nota fiscal</div>
<div class="gl" style="left:614px;top:607.5px;width:143px"></div>
<div class="t " style="right:1350.5px;top:623.75px;letter-spacing:0.67px;">Frete CIF:</div>
<div class="f r" style="left:566px;top:618px;width:79px;height:27.6px;line-height:25.200000000000003px;">2,2000</div>
<div class="f r" style="left:650px;top:618px;width:107.5px;height:27.6px;line-height:25.200000000000003px;">10,136500</div>
<div class="a" style="left:438px;top:651px;width:114px;height:24px;background:#fff"></div>
<div class="a" style="left:442.5px;top:655px;width:16.5px;height:16.5px;background:#fff;border:2px solid #1a1a1a"></div>
<div class="t " style="left:465px;top:654.25px;letter-spacing:0.38px;">Vlr. IPI Fixo</div>
<div class="t " style="right:1267px;top:653.25px;letter-spacing:0.45px;">Pauta IPI:</div>
<div class="f r" style="left:650px;top:648px;width:107.5px;height:27.6px;line-height:25.200000000000003px;">0,000000</div>
<div class="t " style="right:1452px;top:684.25px;letter-spacing:1.00px;">IPI:</div>
<div class="f r" style="left:465px;top:678px;width:96px;height:27.6px;line-height:25.200000000000003px;">0,000000</div>
<div class="f r" style="left:566px;top:678px;width:79px;height:27.6px;line-height:25.200000000000003px;">10,0000</div>
<div class="f r" style="left:650px;top:678px;width:107.5px;height:27.6px;line-height:25.200000000000003px;">49,588650</div>
<div class="t " style="right:1350.5px;top:714.25px;letter-spacing:-0.07px;">Seguro:</div>
<div class="f r" style="left:566px;top:708px;width:79px;height:27.6px;line-height:25.200000000000003px;">3,6000</div>
<div class="f r" style="left:650px;top:708px;width:107.5px;height:27.6px;line-height:25.200000000000003px;">17,100000</div>
<div class="t " style="right:1350.5px;top:744.25px;letter-spacing:-0.00px;">Outras despesas:</div>
<div class="f r" style="left:566px;top:738px;width:79px;height:27.6px;line-height:25.200000000000003px;">4,3000</div>
<div class="f r" style="left:650px;top:738px;width:107.5px;height:27.6px;line-height:25.200000000000003px;">20,425000</div>
<div class="t " style="right:1448px;top:773.75px;letter-spacing:0.41px;">FCP ST:</div>
<div class="f r" style="left:465px;top:768px;width:96px;height:27.6px;line-height:25.200000000000003px;">753,300203</div>
<div class="f r" style="left:566px;top:768px;width:79px;height:27.6px;line-height:25.200000000000003px;">1,5000</div>
<div class="f r" style="left:650px;top:768px;width:107.5px;height:27.6px;line-height:25.200000000000003px;">11,299503</div>
<div class="t u" style="right:1448px;top:802.25px;letter-spacing:0.31px;">ST NF:</div>
<div class="f ro" style="left:465px;top:798px;width:96px;height:27.6px;line-height:25.200000000000003px;">753,300203</div>
<div class="f ro r" style="left:566px;top:798px;width:79px;height:27.6px;line-height:25.200000000000003px;">7,7601</div>
<div class="f ro" style="left:650px;top:798px;width:107.5px;height:27.6px;line-height:25.200000000000003px;">43,301464</div>
<div class="t b" style="left:371px;top:828.75px;letter-spacing:0.30px;">Preço Mercadoria</div>
<div class="gl" style="left:525.5px;top:835.5px;width:231.5px"></div>
<div class="f ro" style="left:634px;top:846px;width:123.5px;height:27.6px;line-height:25.200000000000003px;">600,726117</div>
<div class="t b" style="left:371px;top:880.75px;letter-spacing:0.18px;">Cálculo da subst. tributária (ST)</div>
<div class="f " style="left:647px;top:879px;width:110.5px;height:27.6px;line-height:25.200000000000003px;">Nota fiscal</div>
<div class="dd" style="left:732px;top:881px;width:23px;height:23px"></div>
<div class="a" style="left:371px;top:935px;width:395px;height:1px;background:#b4b4b4"></div>
<svg class="a" style="left:459px;top:908px" width="140.5" height="29" viewBox="0 0 140.5 29"><defs><linearGradient id="tg459_908" x1="0" y1="0" x2="0" y2="1"><stop offset="0" stop-color="#f7f7f7"/><stop offset=".6" stop-color="#f0f0f0"/><stop offset="1" stop-color="#dadada"/></linearGradient></defs><g><path d="M.5 27.5 L26 3 Q28 .5 32 .5 L135.5 .5 Q139.0 .5 139.0 4 L139.0 27.5 Z" fill="url(#tg459_908)" stroke="#b0b0b0"/><path d="M2.5 26.5 L27 3.5 Q29 1.5 32 1.5 L135.5 1.5" fill="none" stroke="#fff" stroke-opacity=".9"/></g></svg>
<div class="t " style="left:488.75px;top:916.25px;letter-spacing:-0.28px;">Medicamentos</div>
<svg class="a" style="left:371px;top:907.5px" width="103" height="30.0" viewBox="0 0 103 30.0"><path d="M0 29.0 L26.5 0 L99 0 Q102 0 102 3 L102 30.0 L0 30.0Z" fill="#f0f0f0"/><path d="M0 29.0 L26.5 .5" stroke="#b0b0b0" fill="none"/><path d="M101.5 4 L101.5 29.0" stroke="#b0b0b0" fill="none"/><path d="M26.5 0 L100 0 Q102 0 102 2 L102 4.7 L21.8 4.7 Z" fill="#1878d4"/></svg>
<div class="t " style="left:400px;top:916.25px;letter-spacing:-0.10px;">Alíquotas</div>
<div class="t " style="right:1418.5px;top:945.25px;letter-spacing:0.08px;">Vlr. Pauta:</div>
<div class="f r" style="left:494px;top:939px;width:79px;height:27.6px;line-height:25.200000000000003px;">0,000000</div>
<div class="t " style="right:1232px;top:945.25px;letter-spacing:0.87px;">%IVA:</div>
<div class="f r" style="left:680.5px;top:939px;width:78.0px;height:27.6px;line-height:25.200000000000003px;">35,0000</div>
<div class="t " style="right:1418.5px;top:975.25px;letter-spacing:-0.18px;">Vlr. Adicional:</div>
<div class="f r" style="left:494px;top:969px;width:79px;height:27.1px;line-height:24.700000000000003px;">0,0000</div>
<div class="t " style="right:1232px;top:975.25px;letter-spacing:0.39px;">Red.Base IVA:</div>
<div class="f r" style="left:680.5px;top:969px;width:78.0px;height:27.1px;line-height:24.700000000000003px;">0,0000</div>
<div class="t " style="right:1418.5px;top:1004.75px;letter-spacing:0.51px;">Red.Al.Ext.:</div>
<div class="f r" style="left:494px;top:999px;width:79px;height:27.6px;line-height:25.200000000000003px;">0,0000</div>
<div class="t " style="right:1232px;top:1004.75px;letter-spacing:0.37px;">ICMSFrete FOB:</div>
<div class="f r" style="left:680.5px;top:999px;width:78.0px;height:27.6px;line-height:25.200000000000003px;">0,0000</div>
<div class="a" style="left:765px;top:248px;width:395px;height:1px;background:#b4b4b4"></div>
<svg class="a" style="left:765px;top:220px" width="111.5" height="29" viewBox="0 0 111.5 29"><defs><linearGradient id="tg765_220" x1="0" y1="0" x2="0" y2="1"><stop offset="0" stop-color="#f7f7f7"/><stop offset=".6" stop-color="#f0f0f0"/><stop offset="1" stop-color="#dadada"/></linearGradient></defs><g><path d="M.5 27.5 L25 3 Q27 .5 31 .5 L106.5 .5 Q110.0 .5 110.0 4 L110.0 27.5 Z" fill="url(#tg765_220)" stroke="#b0b0b0"/><path d="M2.5 26.5 L26 3.5 Q28 1.5 31 1.5 L106.5 1.5" fill="none" stroke="#fff" stroke-opacity=".9"/></g></svg>
<div class="t " style="left:794px;top:228.25px;letter-spacing:0.48px;">Inf.Fiscais</div>
<svg class="a" style="left:862px;top:219.5px" width="137.5" height="30.5" viewBox="0 0 137.5 30.5"><path d="M0 29.5 L26 0 L133.5 0 Q136.5 0 136.5 3 L136.5 30.5 L0 30.5Z" fill="#f0f0f0"/><path d="M0 29.5 L26 .5" stroke="#b0b0b0" fill="none"/><path d="M136.0 4 L136.0 29.5" stroke="#b0b0b0" fill="none"/><path d="M26 0 L134.5 0 Q136.5 0 136.5 2 L136.5 4.7 L21.3 4.7 Z" fill="#1878d4"/></svg>
<div class="t " style="left:890.5px;top:228.5px;letter-spacing:0.40px;">Ref.Tributária</div>
<div class="t " style="left:679px;width:400px;text-align:center;top:256.25px;letter-spacing:-0.26px;">Base</div>
<div class="t " style="left:779px;width:400px;text-align:center;top:256.25px;letter-spacing:-0.11px;">Alíquota</div>
<div class="t " style="left:876px;width:400px;text-align:center;top:256.25px;letter-spacing:-0.33px;">Valor</div>
<div class="t u" style="right:1078px;top:283.75px;letter-spacing:0.09px;">CBS:</div>
<div class="f ro" style="left:836px;top:278px;width:95px;height:27.6px;line-height:25.200000000000003px;">595,501117</div>
<div class="f ro r" style="left:936px;top:278px;width:87px;height:27.6px;line-height:25.200000000000003px;">12,0000</div>
<div class="f ro" style="left:1028.5px;top:278px;width:106.5px;height:27.6px;line-height:25.200000000000003px;">71,460134</div>
<div class="t u" style="right:1078px;top:316.75px;letter-spacing:0.29px;">IBS:</div>
<div class="f ro" style="left:836px;top:311px;width:95px;height:27.6px;line-height:25.200000000000003px;">595,501117</div>
<div class="f ro r" style="left:936px;top:311px;width:87px;height:27.6px;line-height:25.200000000000003px;">25,0000</div>
<div class="f ro" style="left:1028.5px;top:311px;width:106.5px;height:27.6px;line-height:25.200000000000003px;">148,875279</div>
<div class="t u" style="right:1078px;top:349.25px;letter-spacing:0.59px;">IS:</div>
<div class="f ro" style="left:836px;top:343.5px;width:95px;height:27.6px;line-height:25.200000000000003px;">595,501117</div>
<div class="f ro r" style="left:936px;top:343.5px;width:87px;height:27.6px;line-height:25.200000000000003px;">16,0000</div>
<div class="f ro" style="left:1028.5px;top:343.5px;width:106.5px;height:27.6px;line-height:25.200000000000003px;">95,280179</div>
<div class="t b" style="left:765.5px;top:583.75px;letter-spacing:0.23px;">Custo fora da nota fiscal</div>
<div class="gl" style="left:977px;top:590.5px;width:173.5px"></div>
<div class="t " style="right:1060.5px;top:607.75px;letter-spacing:0.36px;">Frete FOB:</div>
<div class="f r" style="left:854px;top:601.5px;width:95px;height:27.1px;line-height:24.700000000000003px;">0,000000</div>
<div class="f r" style="left:953px;top:601.5px;width:86px;height:27.1px;line-height:24.700000000000003px;">0,0000</div>
<div class="f r" style="left:1043.5px;top:601.5px;width:107.0px;height:27.1px;line-height:24.700000000000003px;">0,000000</div>
<div class="t " style="right:962px;top:637.75px;letter-spacing:0.16px;">Desp. Financ.:</div>
<div class="f r" style="left:953px;top:631.5px;width:86px;height:27.1px;line-height:24.700000000000003px;">0,0000</div>
<div class="f r" style="left:1043.5px;top:631.5px;width:107.0px;height:27.1px;line-height:24.700000000000003px;">0,000000</div>
<div class="t " style="right:962px;top:667.75px;letter-spacing:-0.00px;">Outras Despesas:</div>
<div class="f r" style="left:953px;top:661.5px;width:86px;height:27.1px;line-height:24.700000000000003px;">0,0000</div>
<div class="f r" style="left:1043.5px;top:661.5px;width:107.0px;height:27.1px;line-height:24.700000000000003px;">0,000000</div>
<div class="t " style="right:1060.5px;top:697.75px;letter-spacing:-0.17px;">FCP Guia:</div>
<div class="f r" style="left:854px;top:691.5px;width:95px;height:27.1px;line-height:24.700000000000003px;">0,000000</div>
<div class="f r" style="left:953px;top:691.5px;width:86px;height:27.1px;line-height:24.700000000000003px;">0,0000</div>
<div class="f r" style="left:1043.5px;top:691.5px;width:107.0px;height:27.1px;line-height:24.700000000000003px;">0,000000</div>
<div class="t u" style="right:1060.5px;top:726.25px;letter-spacing:-0.21px;">ST Guia:</div>
<div class="f ro" style="left:854px;top:721.5px;width:95px;height:27.1px;line-height:24.700000000000003px;">0,000000</div>
<div class="f ro r" style="left:953px;top:721.5px;width:86px;height:27.1px;line-height:24.700000000000003px;">0,0000</div>
<div class="f ro" style="left:1043.5px;top:721.5px;width:107.0px;height:27.1px;line-height:24.700000000000003px;">0,000000</div>
<div class="t b" style="left:765.5px;top:754.75px;letter-spacing:0.29px;">Cálculo de ST (ICMS Antecipado)</div>
<div class="gl" style="left:1045px;top:762px;width:105.5px"></div>
<div class="t " style="right:1043px;top:777.25px;letter-spacing:0.15px;">Vl.Pauta:</div>
<div class="f r" style="left:870.5px;top:771px;width:79.0px;height:27.1px;line-height:24.700000000000003px;">0,000000</div>
<div class="t " style="right:842.5px;top:777.25px;letter-spacing:0.87px;">%IVA:</div>
<div class="f ro r" style="left:1071.75px;top:771px;width:78.75px;height:27.1px;line-height:24.700000000000003px;">0,0000</div>
<div class="t " style="right:1043px;top:807.25px;letter-spacing:-0.28px;">Vl.Adicional:</div>
<div class="f ro r" style="left:870.5px;top:801px;width:79.0px;height:27.1px;line-height:24.700000000000003px;">0,0000</div>
<div class="t " style="right:842.5px;top:807.25px;letter-spacing:0.39px;">Red.Base IVA:</div>
<div class="f ro r" style="left:1071.75px;top:801px;width:78.75px;height:27.1px;line-height:24.700000000000003px;">0,0000</div>
<div class="t " style="right:1043px;top:837.25px;letter-spacing:0.51px;">Red.Al.Ext.:</div>
<div class="f ro r" style="left:870.5px;top:831px;width:79.0px;height:27.1px;line-height:24.700000000000003px;">0,0000</div>
<div class="t " style="right:842.5px;top:837.25px;letter-spacing:0.37px;">ICMSFrete FOB:</div>
<div class="f ro r" style="left:1071.75px;top:831px;width:78.75px;height:27.1px;line-height:24.700000000000003px;">0,0000</div>
<div class="t " style="right:1043px;top:867.25px;letter-spacing:0.17px;">Alíq.Interna:</div>
<div class="f ro r" style="left:870.5px;top:861px;width:79.0px;height:27.1px;line-height:24.700000000000003px;">0,0000</div>
<div class="t " style="right:842.5px;top:867.25px;letter-spacing:-0.06px;">Alíq.Ext. Guia:</div>
<div class="f ro r" style="left:1071.75px;top:861px;width:78.75px;height:27.1px;line-height:24.700000000000003px;">0,0000</div>
<div class="t " style="right:1060.5px;top:897.25px;letter-spacing:0.21px;">ICMSAntec:</div>
<div class="f ro" style="left:854px;top:891px;width:95px;height:27.6px;line-height:25.200000000000003px;">0,000000</div>
<div class="f r" style="left:953px;top:891px;width:86px;height:27.6px;line-height:25.200000000000003px;">0,0000</div>
<div class="f r" style="left:1043.5px;top:891px;width:107.0px;height:27.6px;line-height:25.200000000000003px;">0,000000</div>
<div class="t " style="right:1060.5px;top:927.25px;letter-spacing:0.25px;">Dif.Alíq.:</div>
<div class="f ro" style="left:854px;top:921px;width:95px;height:27.6px;line-height:25.200000000000003px;">0,000000</div>
<div class="f r" style="left:953px;top:921px;width:86px;height:27.6px;line-height:25.200000000000003px;">0,0000</div>
<div class="f r" style="left:1043.5px;top:921px;width:107.0px;height:27.6px;line-height:25.200000000000003px;">0,000000</div>
<div class="t b" style="left:765.5px;top:952.75px;letter-spacing:0.36px;">Acréscimo Custo</div>
<div class="gl" style="left:913px;top:960.5px;width:237.5px"></div>
<div class="t " style="right:1060.5px;top:977.75px;letter-spacing:-0.40px;">% Acrés.:</div>
<div class="f r" style="left:854px;top:971.5px;width:95px;height:26.6px;line-height:24.200000000000003px;">0,0000</div>
<div class="t " style="right:870px;top:977.75px;letter-spacing:-0.02px;">Vlr. Acrés.:</div>
<div class="f r" style="left:1043.5px;top:971.5px;width:107.0px;height:26.6px;line-height:24.200000000000003px;">0,0000</div>
<div class="t b" style="left:765.5px;top:1002.75px;">Retificação de preço</div>
<div class="t b" style="left:1160.5px;top:221.75px;letter-spacing:0.25px;">Descontos financeiro</div>
<div class="gl" style="left:1348.5px;top:225.5px;width:199.5px"></div>
<div class="t " style="right:566.5px;top:247.75px;letter-spacing:-0.20px;">Conta pagar:</div>
<div class="f r" style="left:1347px;top:242.5px;width:86.5px;height:27.1px;line-height:24.700000000000003px;">0,0000</div>
<div class="f r" style="left:1438px;top:242.5px;width:107px;height:27.1px;line-height:24.700000000000003px;">0,000000</div>
<div class="t " style="right:566.5px;top:277.75px;letter-spacing:-0.47px;">Produtor rural:</div>
<div class="f r" style="left:1347px;top:273px;width:86.5px;height:27.1px;line-height:24.700000000000003px;">0,0000</div>
<div class="t b" style="left:1160px;top:302.25px;letter-spacing:0.44px;">Embalagem</div>
<div class="gl" style="left:1267px;top:310.5px;width:281px"></div>
<div class="t " style="left:1170px;top:324.75px;letter-spacing:-0.10px;">F6-Qtde compra</div>
<div class="t " style="left:1170px;top:343.75px;letter-spacing:-0.47px;">em unidade</div>
<div class="t " style="right:467.5px;top:321.75px;letter-spacing:0.17px;">Qt.Unit.CX:</div>
<div class="f ro r" style="left:1447px;top:315px;width:101px;height:27.1px;line-height:24.700000000000003px;">1,000000</div>
<div class="t " style="right:467.5px;top:351.75px;letter-spacing:0.06px;">Peso Líq.:</div>
<div class="f ro r" style="left:1447px;top:344.5px;width:101px;height:28.1px;line-height:25.700000000000003px;">0,025000</div>
<div class="t " style="right:467.5px;top:380.75px;letter-spacing:0.11px;">Peso bruto:</div>
<div class="f ro r" style="left:1447px;top:375px;width:101px;height:27.6px;line-height:25.200000000000003px;">0,025000</div>
<div class="t b" style="left:1160px;top:406.25px;letter-spacing:0.28px;">Quantidades</div>
<div class="gl" style="left:1276px;top:414px;width:272px"></div>
<div class="t " style="right:467.5px;top:424.75px;letter-spacing:0.00px;">Qtde: (CT)</div>
<div class="f r" style="left:1447px;top:418.5px;width:101px;height:27.6px;line-height:25.200000000000003px;">1,000000</div>
<div class="t " style="right:470px;top:484.75px;letter-spacing:0.11px;">Qtde. Unid. Venda:</div>
<div class="f ro r" style="left:1447px;top:478px;width:101px;height:28.1px;line-height:25.700000000000003px;">1,000000</div>
<div class="t " style="right:532.5px;top:543.75px;letter-spacing:0.09px;">Preço merc. x Qtd.pedida:</div>
<div class="f ro" style="left:1383.5px;top:538.5px;width:164.5px;height:27.6px;line-height:25.200000000000003px;">600,726117</div>
<div class="t " style="right:532.5px;top:572.75px;letter-spacing:0.08px;">Preço liq. x Qtd.pedida:</div>
<div class="f ro" style="left:1383.5px;top:568.5px;width:164.5px;height:27.6px;line-height:25.200000000000003px;">460,750000</div>
<div class="t " style="right:532.5px;top:601.75px;letter-spacing:0.02px;">Preço compra x Qtd.pedida:</div>
<div class="f ro" style="left:1383.5px;top:598.5px;width:164.5px;height:27.6px;line-height:25.200000000000003px;">500,000000</div>
<div class="t b" style="left:1160px;top:628.25px;letter-spacing:-0.21px;">BCR</div>
<div class="gl" style="left:1197px;top:636.5px;width:351px"></div>
<div class="btn " style="left:1442px;top:642px;width:105.5px;height:24.5px;line-height:22.5px;color:#a0a0a0;border-color:#e6e6e6;background:#f6f6f6">Calcular</div>
<div class="t " style="right:660px;top:676.75px;letter-spacing:0.36px;">ICMS:</div>
<div class="f ro" style="left:1253px;top:670px;width:97px;height:27.6px;line-height:25.200000000000003px;">0,000000</div>
<div class="f ro" style="left:1453px;top:670px;width:96px;height:27.6px;line-height:25.200000000000003px;">0,000000</div>
<div class="t " style="right:660px;top:706.75px;letter-spacing:0.14px;">ST BCR:</div>
<div class="f ro" style="left:1253px;top:700px;width:97px;height:27.6px;line-height:25.200000000000003px;">0,000000</div>
<div class="f ro" style="left:1453px;top:700px;width:96px;height:27.6px;line-height:25.200000000000003px;">0,000000</div>
<div class="t " style="right:660px;top:736.75px;letter-spacing:0.22px;">FCP ST BCR:</div>
<div class="f r" style="left:1253px;top:730px;width:96.5px;height:28.1px;line-height:25.700000000000003px;">753,300203</div>
<div class="f r" style="left:1352px;top:730px;width:97px;height:28.1px;line-height:25.700000000000003px;">1,5000</div>
<div class="f r" style="left:1453px;top:730px;width:96px;height:28.1px;line-height:25.700000000000003px;">11,299503</div>
<div class="t b" style="left:1160px;top:761.75px;letter-spacing:0.16px;">Dados fiscais</div>
<div class="gl" style="left:1275.5px;top:769px;width:272.5px"></div>
<div class="t " style="right:657px;top:785.75px;letter-spacing:0.46px;">CFOP:</div>
<div class="f " style="left:1259px;top:779.5px;width:71px;height:27.6px;line-height:25.200000000000003px;">2101</div>
<div class="btn " style="left:1335px;top:779.5px;width:32px;height:27.0px;line-height:25.0px;line-height:20px">...</div>
<div class="t " style="right:474px;top:785.75px;letter-spacing:0.37px;">Sit.Trib.:</div>
<div class="f " style="left:1440.5px;top:779.5px;width:70.0px;height:27.6px;line-height:25.200000000000003px;">20</div>
<div class="btn " style="left:1515px;top:779.5px;width:32.5px;height:27.0px;line-height:25.0px;line-height:20px">...</div>
<div class="t " style="right:657px;top:816.25px;letter-spacing:0.17px;">Orig.Merc.:</div>
<div class="f " style="left:1259px;top:810px;width:71px;height:27.6px;line-height:25.200000000000003px;color:#9a9a9a">Orig.Merc</div>
<div class="btn " style="left:1335px;top:810px;width:32px;height:27px;line-height:25px;line-height:20px">...</div>
<div class="t " style="right:626px;top:846.75px;letter-spacing:0.58px;">CST.PIS/COFINS:</div>
<div class="f " style="left:1289px;top:841px;width:256px;height:27.6px;line-height:25.200000000000003px;">50 - Operação com Direito a Cr</div>
<div class="dd" style="left:1520px;top:844px;width:22px;height:22px"></div>
<div class="t b" style="left:1160px;top:874.75px;letter-spacing:0.33px;">Custo última entrada previsto</div>
<div class="gl" style="left:1421px;top:882.5px;width:124.5px"></div>
<div class="t u" style="right:655px;top:900.75px;letter-spacing:0.05px;">Valor:</div>
<div class="f ro" style="left:1258px;top:894.5px;width:100.5px;height:27.1px;line-height:24.700000000000003px;">600,726117</div>
<div class="t u" style="right:470px;top:900.75px;letter-spacing:0.17px;">Custo:</div>
<div class="f ro" style="left:1447px;top:894.5px;width:101px;height:27.1px;line-height:24.700000000000003px;">541,489029</div>
</body></html>
